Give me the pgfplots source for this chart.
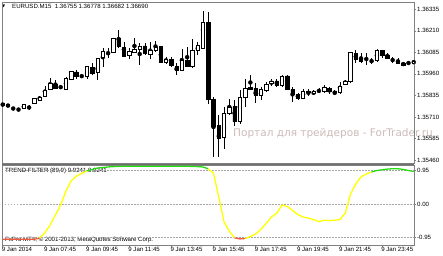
\documentclass[border=0pt]{standalone}
\usepackage{pgfplots}
\pgfplotsset{compat=1.18}
\usepackage{pgfplotstable}
\usepackage{fontspec}
\setmainfont{Liberation Sans}
\newfontfamily\djv{DejaVu Sans}
\definecolor{frm}{RGB}{128,128,128}
\definecolor{tfyellow}{RGB}{255,255,0}
\definecolor{tfgreen}{RGB}{40,220,20}
\definecolor{tfred}{RGB}{240,90,60}
\definecolor{wm}{RGB}{205,185,185}

\pgfplotstableread{
i o h l c
0 1.35788 1.35794 1.35771 1.35779
1 1.35782 1.35785 1.35768 1.35774
2 1.35764 1.35768 1.35750 1.35764
3 1.35758 1.35762 1.35745 1.35758
4 1.35758 1.35785 1.35756 1.35781
5 1.35770 1.35779 1.35754 1.35770
6 1.35789 1.35823 1.35785 1.35818
7 1.35808 1.35833 1.35804 1.35824
8 1.35828 1.35890 1.35824 1.35866
9 1.35871 1.35934 1.35866 1.35903
10 1.35901 1.35925 1.35871 1.35876
11 1.35876 1.35896 1.35871 1.35876
12 1.35872 1.35944 1.35866 1.35934
13 1.35930 1.35979 1.35925 1.35973
14 1.35971 1.35983 1.35934 1.35948
15 1.35944 1.35958 1.35938 1.35944
16 1.35944 1.36006 1.35929 1.36002
17 1.35998 1.36022 1.35955 1.35963
18 1.35969 1.36054 1.35925 1.36051
19 1.36056 1.36113 1.36003 1.36089
20 1.36083 1.36109 1.36051 1.36083
21 1.36085 1.36172 1.36080 1.36167
22 1.36167 1.36215 1.36109 1.36118
23 1.36112 1.36143 1.36060 1.36064
24 1.36070 1.36109 1.36045 1.36093
25 1.36085 1.36167 1.36080 1.36103
26 1.36103 1.36138 1.36012 1.36122
27 1.36122 1.36138 1.36070 1.36080
28 1.36076 1.36147 1.36045 1.36099
29 1.36095 1.36151 1.36089 1.36112
30 1.36118 1.36122 1.36022 1.36029
31 1.36027 1.36060 1.36017 1.36045
32 1.36045 1.36060 1.36002 1.36012
33 1.36002 1.36022 1.35955 1.35983
34 1.35983 1.36103 1.35979 1.36037
35 1.36037 1.36114 1.36002 1.36006
36 1.36002 1.36161 1.35992 1.36095
37 1.36095 1.36147 1.36070 1.36128
38 1.36109 1.36327 1.36103 1.36261
39 1.36257 1.36321 1.35785 1.35814
40 1.35814 1.35828 1.35478 1.35655
41 1.35663 1.35721 1.35478 1.35586
42 1.35590 1.35766 1.35528 1.35731
43 1.35731 1.35818 1.35721 1.35766
44 1.35770 1.35808 1.35657 1.35682
45 1.35682 1.35866 1.35673 1.35822
46 1.35824 1.35929 1.35770 1.35876
47 1.35880 1.35955 1.35868 1.35871
48 1.35876 1.35909 1.35789 1.35837
49 1.35837 1.35886 1.35808 1.35871
50 1.35866 1.35915 1.35857 1.35901
51 1.35905 1.35929 1.35890 1.35919
52 1.35919 1.35929 1.35886 1.35896
53 1.35891 1.35955 1.35886 1.35948
54 1.35948 1.35955 1.35866 1.35871
55 1.35871 1.35886 1.35799 1.35842
56 1.35842 1.35851 1.35813 1.35818
57 1.35818 1.35872 1.35813 1.35857
58 1.35857 1.35872 1.35832 1.35852
59 1.35847 1.35866 1.35837 1.35857
60 1.35861 1.35876 1.35847 1.35861
61 1.35857 1.35896 1.35851 1.35882
62 1.35876 1.35886 1.35843 1.35861
63 1.35861 1.35866 1.35837 1.35851
64 1.35851 1.35915 1.35847 1.35890
65 1.35901 1.35925 1.35896 1.35915
66 1.35915 1.36089 1.35909 1.36083
67 1.36080 1.36099 1.36022 1.36046
68 1.36046 1.36080 1.36022 1.36035
69 1.36035 1.36080 1.36012 1.36035
70 1.36035 1.36051 1.36017 1.36035
71 1.36037 1.36103 1.36031 1.36099
72 1.36095 1.36099 1.36051 1.36066
73 1.36070 1.36083 1.36045 1.36051
74 1.36045 1.36060 1.36022 1.36045
75 1.36041 1.36051 1.36016 1.36022
76 1.36022 1.36026 1.36009 1.36012
77 1.36022 1.36031 1.36016 1.36022
78 1.36019 1.36038 1.36017 1.36031
}\candles

\begin{document}
\begin{tikzpicture}[font=\fontsize{6.1}{7}\selectfont]
\useasboundingbox (0,0) rectangle (443pt,256pt);
\pgfplotsset{
  every axis/.append style={scale only axis, anchor=south west, width=412pt,
    xmin=-0.133, xmax=78.05},
  every tick label/.append style={font=\fontsize{6.1}{7}\selectfont},
}
% watermark and texts (under the plots)
\node[anchor=west, inner sep=0pt, text=wm, font=\djv\fontsize{10.5}{12}\selectfont] at (233pt,122.5pt) {Портал для трейдеров - ForTrader.ru};
\node[anchor=west, inner sep=0pt, font=\djv\fontsize{4}{4}\selectfont] at (2pt,249.5pt) {▼};
\node[anchor=west, inner sep=0pt] at (12pt,249.5pt) {EURUSD.M15\ \ 1.36755 1.36778 1.36682 1.36690};
\node[anchor=west, inner sep=0pt] at (5pt,85.3pt) {TREND FILTER (89,9) 0.9241 0.9241};
\node[anchor=west, inner sep=0pt] at (5pt,16.3pt) {FxPro MT4, © 2001-2013, MetaQuotes Software Corp.};
% pane separator
\draw[frm!85!black, line width=2.2pt] (2pt,92pt) -- (414pt,92pt);

% main pane: frame, price labels, wicks
\begin{axis}[at={(2pt,93pt)}, height=161pt, ymin=1.35443, ymax=1.36377,
  axis line style={frm, line width=0.8pt},
  xtick=\empty,
  ytick={1.35460,1.35585,1.35710,1.35835,1.35960,1.36085,1.36210,1.36335},
  yticklabels={1.35460,1.35585,1.35710,1.35835,1.35960,1.36085,1.36210,1.36335},
  ytick pos=right, yticklabel pos=right, tick align=outside, major tick length=2pt,
  tick style={frm, line width=0.5pt},
  yticklabel style={anchor=west, inner sep=0pt, xshift=1pt}]
\addplot[only marks, mark=none, error bars/.cd, y dir=both, y explicit, error mark=none,
  error bar style={draw=black, line width=0.6pt}]
  table[x=i, y expr={(\thisrow{h}+\thisrow{l})/2}, y error expr={(\thisrow{h}-\thisrow{l})/2}] {\candles};
\end{axis}

% main pane: candle bodies
\begin{axis}[at={(2pt,93pt)}, height=161pt, ymin=1.35443, ymax=1.36377,
  axis lines=none, ybar stacked, bar width=0.65]
\addplot[draw=none, fill=none] table[x=i, y expr={min(\thisrow{o},\thisrow{c})}] {\candles};
\addplot[draw=black, fill=white, line width=0.6pt] table[x=i, y expr={max(\thisrow{c}-\thisrow{o},0)}] {\candles};
\addplot[draw=black, fill=black, line width=0.6pt] table[x=i, y expr={max(\thisrow{o}-\thisrow{c},0)}] {\candles};
\end{axis}

% indicator pane
\begin{axis}[at={(2pt,10.5pt)}, height=80.5pt, ymin=-1.177, ymax=1.106,
  axis line style={frm, line width=0.8pt},
  xtick={0,8,16,24,32,40,48,56,64,72},
  xticklabels={9 Jan 2014,9 Jan 07:45,9 Jan 09:45,9 Jan 11:45,9 Jan 13:45,9 Jan 15:45,9 Jan 17:45,9 Jan 19:45,9 Jan 21:45,9 Jan 23:45},
  xtick pos=bottom, ytick pos=right, yticklabel pos=right,
  ytick={-0.95,0,0.95}, yticklabels={-0.95,0.00,0.95},
  ymajorgrids, grid style={frm!70, dash pattern=on 1.5pt off 1.5pt, line width=0.5pt},
  tick align=outside, major tick length=2pt, tick style={frm, line width=0.5pt},
  xticklabel style={anchor=north west, inner sep=0pt, xshift=-1pt},
  yticklabel style={anchor=west, inner sep=0pt, xshift=1pt},
  every axis plot/.append style={line width=1.3pt, no marks}]
\addplot[tfred] coordinates {(0,-1.00)(1,-1.00)(2,-1.00)(3,-1.00)(4,-1.00)(5,-1.00)(6,-1.00)(7,-0.97)};
\addplot[tfyellow] coordinates {(7,-0.97)(8,-0.82)(9,-0.60)(10,-0.31)(11,-0.03)(12,0.36)(13,0.66)(14,0.79)(15,0.87)(16,0.94)};
\addplot[tfgreen] coordinates {(16,0.94)(17,0.98)(18,1.02)(19,1.035)(20,1.05)(21,1.06)(22,1.07)(23,1.07)(24,1.07)(25,1.07)(26,1.07)(27,1.07)(28,1.07)(29,1.07)(30,1.07)(31,1.07)(32,1.07)(33,1.07)(34,1.07)(35,1.07)(36,1.065)(37,1.06)(38,1.05)(39,1.00)};
\addplot[tfyellow] coordinates {(39,1.00)(40,0.87)(41,0.20)(42,-0.51)(43,-0.77)(44,-0.96)};
\addplot[tfred] coordinates {(44,-0.96)(45,-0.99)(46,-0.98)};
\addplot[tfyellow] coordinates {(46,-0.98)(47,-0.92)(48,-0.85)(49,-0.72)(50,-0.55)(51,-0.37)(52,-0.26)(53,-0.03)(54,-0.07)(55,-0.18)(56,-0.30)(57,-0.37)(58,-0.40)(59,-0.44)(60,-0.50)(61,-0.46)(62,-0.47)(63,-0.46)(64,-0.44)(65,-0.26)(66,0.28)(67,0.57)(68,0.77)(69,0.85)(70,0.91)};
\addplot[tfgreen] coordinates {(70,0.91)(71,0.95)(72,0.97)(73,0.99)(74,1.00)(75,1.00)(76,0.98)(77,0.95)(78,0.924)};
\end{axis}
\end{tikzpicture}
\end{document}
